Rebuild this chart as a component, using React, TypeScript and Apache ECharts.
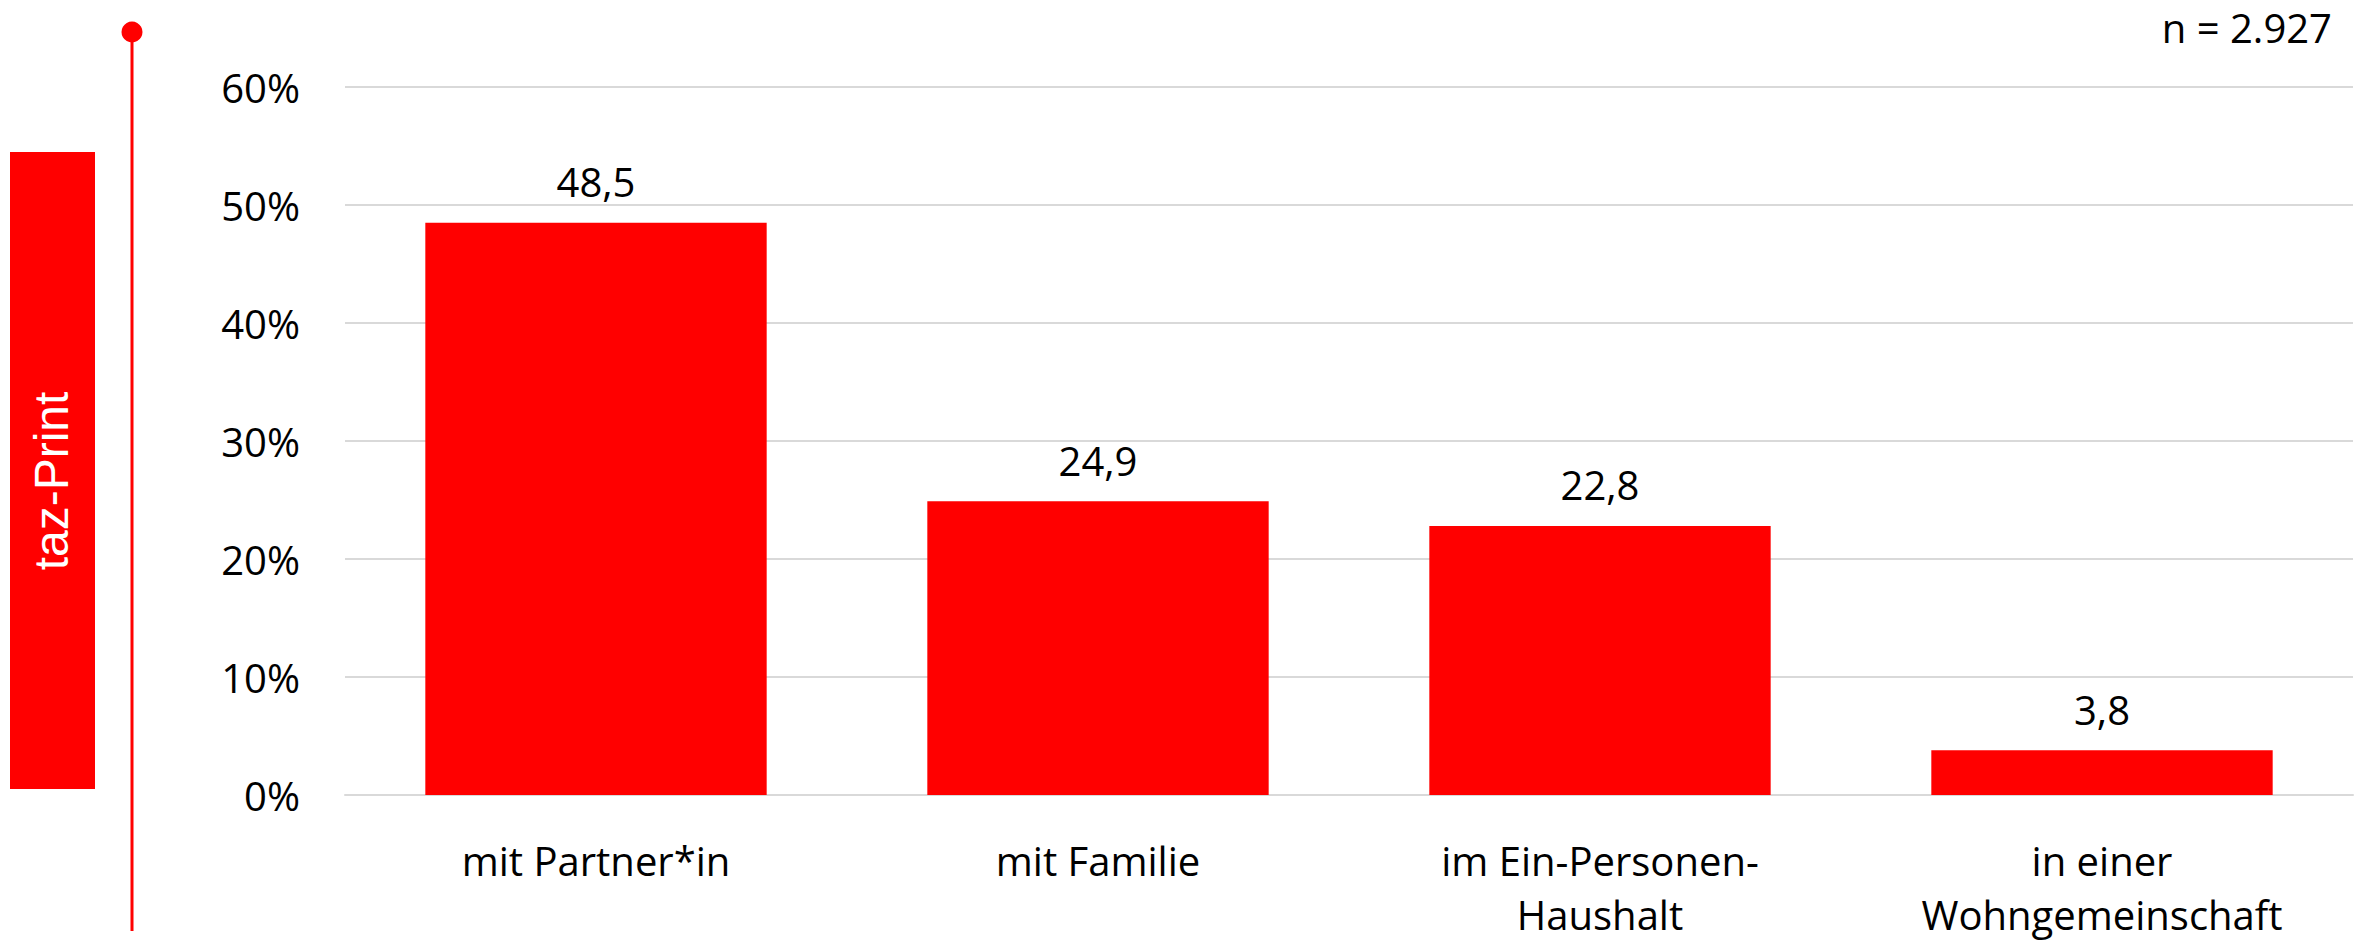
import React, { useEffect, useRef } from "react";
import * as echarts from "echarts";

const categories = [
  "mit Partner*in",
  "mit Familie",
  "im Ein-Personen-\nHaushalt",
  "in einer\nWohngemeinschaft",
];
const values = [48.5, 24.9, 22.8, 3.8];
const yTicks = { min: 0, max: 60, interval: 10 };
const sampleNote = "n = 2.927";
const sideLabel = "taz-Print";

const RED = "#ff0000";
const FONT = "'Open Sans', sans-serif";

export default function App() {
  const ref = useRef<HTMLDivElement>(null);
  useEffect(() => {
    if (!ref.current) return;
    const chart = echarts.init(ref.current, null, { renderer: "svg" });
    chart.setOption({
      animation: false,
      backgroundColor: "#ffffff",
      textStyle: { fontFamily: FONT },
      grid: { left: 345, right: 11, top: 87, bottom: 145 },
      xAxis: {
        type: "category",
        data: categories,
        axisLine: { show: true, lineStyle: { color: "#d9d9d9", width: 2 } },
        axisTick: { show: false },
        axisLabel: {
          color: "#000",
          fontSize: 40,
          lineHeight: 54,
          margin: 38,
          fontFamily: FONT,
          interval: 0,
        },
      },
      yAxis: {
        type: "value",
        min: yTicks.min,
        max: yTicks.max,
        interval: yTicks.interval,
        axisLine: { show: false },
        axisTick: { show: false },
        splitLine: { lineStyle: { color: "#d9d9d9", width: 2 } },
        axisLabel: {
          color: "#000",
          fontSize: 40,
          margin: 45,
          fontFamily: FONT,
          formatter: "{value}%",
        },
      },
      series: [
        {
          type: "bar",
          data: values,
          barCategoryGap: "32%",
          itemStyle: { color: RED },
          label: {
            show: true,
            position: "top",
            distance: 21,
            color: "#000",
            fontSize: 40,
            fontFamily: FONT,
            formatter: (p: any) => String(p.value).replace(".", ","),
          },
        },
      ],
      graphic: [
        {
          type: "rect",
          shape: { x: 10, y: 152, width: 85, height: 637 },
          style: { fill: RED },
        },
        {
          type: "text",
          x: 51,
          y: 481,
          rotation: Math.PI / 2,
          style: {
            text: sideLabel,
            fill: "#ffffff",
            font: "48px 'Liberation Sans', Arial, sans-serif",
            textAlign: "center",
            textVerticalAlign: "middle",
          },
        },
        {
          type: "line",
          shape: { x1: 132, y1: 32, x2: 132, y2: 931 },
          style: { stroke: RED, lineWidth: 3 },
        },
        {
          type: "circle",
          shape: { cx: 132, cy: 32, r: 10.5 },
          style: { fill: RED },
        },
        {
          type: "text",
          x: 2332,
          y: 27,
          style: {
            text: sampleNote,
            fill: "#000",
            font: "40px 'Open Sans', sans-serif",
            textAlign: "right",
            textVerticalAlign: "middle",
          },
        },
      ],
    });
    return () => chart.dispose();
  }, []);
  return (
    <div
      ref={ref}
      style={{ position: "absolute", left: 0, top: 0, width: 2364, height: 941 }}
    />
  );
}
